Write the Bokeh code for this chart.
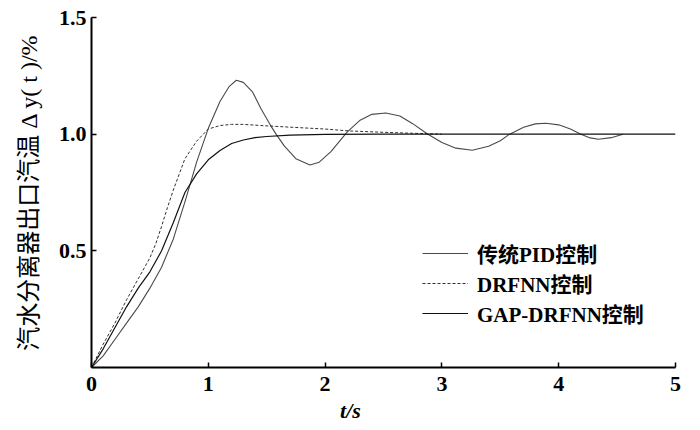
from bokeh.plotting import figure
from bokeh.models import Range1d, FixedTicker, Legend, LegendItem
from bokeh.embed import file_html
from bokeh.resources import INLINE

# 传统PID控制 (oscillating response)
t_pid = [0, 0.1, 0.2, 0.3, 0.4, 0.5, 0.6, 0.7, 0.8, 0.9, 1.0, 1.1, 1.18, 1.24, 1.3, 1.38,
         1.45, 1.53, 1.58, 1.65, 1.75, 1.87, 1.95, 2.05, 2.19, 2.3, 2.4, 2.52, 2.64, 2.75,
         2.87, 3.0, 3.12, 3.26, 3.4, 3.5, 3.58, 3.7, 3.8, 3.89, 4.0, 4.1, 4.19, 4.27, 4.34,
         4.45, 4.55]
y_pid = [0, 0.05, 0.12, 0.19, 0.26, 0.34, 0.43, 0.55, 0.71, 0.88, 1.025, 1.14, 1.205, 1.231,
         1.222, 1.18, 1.11, 1.04, 1.0, 0.95, 0.895, 0.868, 0.88, 0.925, 1.01, 1.06, 1.085,
         1.091, 1.078, 1.045, 1.003, 0.964, 0.94, 0.931, 0.948, 0.972, 1.0, 1.03, 1.044,
         1.047, 1.04, 1.022, 1.0, 0.984, 0.978, 0.985, 1.0]

# DRFNN控制 (dashed)
t_drfnn = [0, 0.1, 0.2, 0.3, 0.4, 0.5, 0.55, 0.6, 0.65, 0.7, 0.8, 0.9, 1.0, 1.1, 1.2, 1.3,
           1.45, 1.7, 2.0, 2.2, 2.5, 2.8, 3.0]
y_drfnn = [0, 0.1, 0.19, 0.29, 0.38, 0.47, 0.53, 0.605, 0.685, 0.76, 0.895, 0.97, 1.022,
           1.037, 1.042, 1.042, 1.037, 1.03, 1.022, 1.014, 1.008, 1.003, 1.0]

# GAP-DRFNN控制 (smooth)
t_gap = [0, 0.1, 0.2, 0.3, 0.4, 0.5, 0.6, 0.7, 0.8, 0.9, 1.0, 1.1, 1.2, 1.3, 1.4, 1.5,
         1.7, 2.0, 2.5, 3.0, 4.0, 5.0]
y_gap = [0, 0.08, 0.17, 0.26, 0.34, 0.41, 0.50, 0.62, 0.75, 0.83, 0.89, 0.93, 0.96, 0.975,
         0.985, 0.99, 0.996, 0.999, 1.0, 1.0, 1.0, 1.0]

x_ticks = [0, 1, 2, 3, 4, 5]
x_tick_labels = ["0", "1", "2", "3", "4", "5"]
y_ticks = [0.5, 1.0, 1.5]
y_tick_labels = ["0.5", "1.0", "1.5"]
series_names = ["传统PID控制", "DRFNN控制", "GAP-DRFNN控制"]

SERIF = "Liberation Serif, Noto Sans CJK SC"
NBSP = "\u00a0"

p = figure(width=700, height=430, output_backend="svg", toolbar_location=None,
           x_range=Range1d(0, 5), y_range=Range1d(0, 1.5),
           min_border_left=91, min_border_right=25, min_border_top=17, min_border_bottom=63)
p.outline_line_color = None
p.xgrid.visible = False
p.ygrid.visible = False
p.background_fill_color = "white"
p.border_fill_color = "white"

r_pid = p.line(t_pid, y_pid, line_color="#4a4a4a", line_width=1.1)
r_drfnn = p.line(t_drfnn, y_drfnn, line_color="#303030", line_width=1.0, line_dash="3 2")
r_gap = p.line(t_gap, y_gap, line_color="#111111", line_width=1.2)

for ax, ticks, labels in ((p.xaxis[0], x_ticks, x_tick_labels), (p.yaxis[0], y_ticks, y_tick_labels)):
    ax.ticker = FixedTicker(ticks=ticks)
    ax.major_label_overrides = {tk: lb for tk, lb in zip(ticks, labels)}
    ax.axis_line_width = 2
    ax.axis_line_color = "black"
    ax.major_tick_in = 5
    ax.major_tick_out = 0
    ax.major_tick_line_width = 1.5
    ax.minor_tick_line_color = None
    ax.major_label_text_font = SERIF
    ax.major_label_text_font_style = "bold"
    ax.major_label_text_font_size = "22px"
    ax.major_label_text_color = "black"

p.xaxis.major_label_standoff = 9
p.yaxis.major_label_standoff = 5

p.yaxis.axis_label = "汽水分离器出口汽温 Δ y( t )/%"
p.yaxis.axis_label_text_font = SERIF
p.yaxis.axis_label_text_font_style = "normal"
p.yaxis.axis_label_text_font_size = "24px"
p.yaxis.axis_label_standoff = 14
p.yaxis.axis_label_text_color = "black"

p.xaxis.axis_label = "t/s" + NBSP * 12
p.xaxis.axis_label_text_font = SERIF
p.xaxis.axis_label_text_font_style = "bold italic"
p.xaxis.axis_label_text_font_size = "22px"
p.xaxis.axis_label_standoff = 4
p.xaxis.axis_label_text_color = "black"

legend = Legend(items=[LegendItem(label=series_names[0], renderers=[r_pid]),
                       LegendItem(label=series_names[1], renderers=[r_drfnn]),
                       LegendItem(label=series_names[2], renderers=[r_gap])],
                location=(331, 39), padding=0, margin=0, spacing=-4,
                glyph_width=46, glyph_height=26, label_height=26, label_standoff=9,
                label_text_font=SERIF, label_text_font_style="bold",
                label_text_font_size="21px", label_text_line_height=0.9,
                label_text_color="black",
                border_line_color=None, background_fill_alpha=0)
p.add_layout(legend, "center")

open("out.html", "w").write(file_html(p, INLINE))
